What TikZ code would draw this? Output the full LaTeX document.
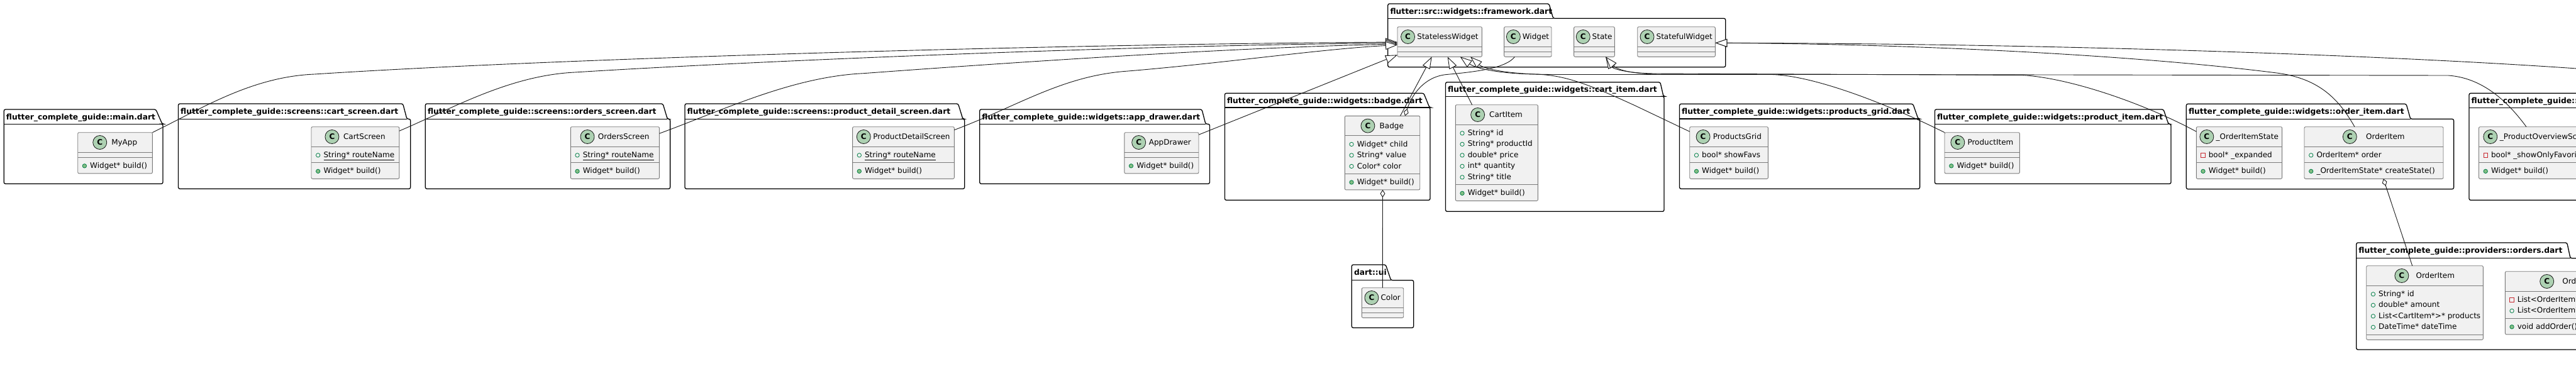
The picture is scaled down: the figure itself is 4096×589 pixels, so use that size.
\documentclass[tikz,border=0pt]{standalone}
\usepackage{fontspec}
\setmainfont{DejaVu Sans}
\usetikzlibrary{arrows.meta}
\definecolor{clsfill}{HTML}{F1F1F1}
\definecolor{clsbord}{HTML}{7A7A7A}
\definecolor{spotfill}{HTML}{ADD1B2}
\definecolor{lnk}{HTML}{181818}
\definecolor{icgreen}{HTML}{038048}
\definecolor{icgreenfill}{HTML}{84BE84}
\definecolor{icred}{HTML}{C82930}
\newcommand\clsfont{\fontsize{12}{14}\selectfont}
\newcommand\pkgfont{\bfseries\fontsize{12.3}{14}\selectfont}
\newcommand\fcg{flutter\_complete\_guide}
\tikzset{
  clsbox/.style={draw=clsbord, fill=clsfill, line width=0.9pt, rounded corners=2pt, inner sep=0pt, outer sep=0pt},
  clsline/.style={draw=clsbord, line width=0.9pt},
  spot/.style={circle, draw=lnk, line width=0.8pt, fill=spotfill, minimum size=22pt, inner sep=0pt, font=\bfseries\fontsize{12}{12}\selectfont},
  clstext/.style={inner sep=0pt, text height=8.8pt, text depth=0pt, font=\clsfont},
  pkgline/.style={draw=black, line width=1.3pt, rounded corners=2.5pt},
  pkgtitle/.style={inner sep=0pt, text height=8.9pt, text depth=0pt, font=\pkgfont},
  icpubf/.style={draw=icgreen, line width=0.8pt},
  icpubm/.style={draw=icgreen, fill=icgreenfill, line width=0.8pt},
  icpriv/.style={draw=icred, line width=0.8pt},
  extarrow/.style={draw=lnk, line width=0.9pt, -{Triangle[length=19pt, width=13pt, fill=white]}},
  aggline/.style={draw=lnk, line width=0.9pt, {Diamond[length=12pt, width=8pt, fill=white]}-}
}
\newcommand\umliconf[2]{\draw[icpubf] (#1,#2) circle[radius=3.2];}
\newcommand\umliconm[2]{\draw[icpubm] (#1,#2) circle[radius=3.2];}
\newcommand\umliconp[2]{\draw[icpriv] ({#1-3.2},{#2-3.2}) rectangle ({#1+3.2},{#2+3.2});}
% header content: space for the spot, then the name; #1 box width, #2 name
\newcommand\umlhead[2]{%
  \setbox0\hbox{#2}%
  \dimen0=#1pt \advance\dimen0 by -\wd0 \advance\dimen0 by -32.3pt
  \ifdim\dimen0<0pt \dimen0=0pt\fi
  \dimen0=0.09\dimen0 \advance\dimen0 by 25.2pt
  \hbox{\hspace*{\dimen0}\box0}}
% #1 id #2 left #3 top #4 width #5 name #6 nA #7 attrs #8 nM #9 methods
\newcommand\umlclass[9]{%
  \pgfmathsetmacro\umlA{#3+31.6}%
  \pgfmathsetmacro\umlM{\umlA+ifthenelse(#6==0,8,17.5*#6+8)}%
  \pgfmathsetmacro\umlB{\umlM+ifthenelse(#8==0,8,17.5*#8+8)}%
  \pgfmathsetmacro\umlH{\umlB-#3}%
  \pgfmathsetmacro\umlhy{#3+15.8}%
  \pgfmathsetmacro\umlhx{#2+#4/2}%
  \node[clsbox, anchor=north west, minimum width=#4, minimum height=\umlH] (#1) at (#2,#3) {};
  \draw[clsline] (#2,\umlA) -- ++(#4,0);
  \draw[clsline] (#2,\umlM) -- ++(#4,0);
  \node[clstext, anchor=center] (#1-h) at (\umlhx,\umlhy) {\umlhead{#4}{#5}};
  \node[spot] at ([xshift=11pt]#1-h.west) {C};
  \ifnum#6>0
    \foreach \ic/\tx [count=\ii] in {#7}{%
      \pgfmathsetmacro\umlry{\umlA+4+17.5*(\ii-0.5)}%
      \csname umlicon\ic\endcsname{#2+10.7}{\umlry+0.8}%
      \node[clstext, anchor=west] at (#2+19.3,\umlry) {\tx};
    }%
  \fi
  \ifnum#8>0
    \foreach \ic/\tx [count=\ii] in {#9}{%
      \pgfmathsetmacro\umlry{\umlM+4+17.5*(\ii-0.5)}%
      \csname umlicon\ic\endcsname{#2+10.7}{\umlry+0.8}%
      \node[clstext, anchor=west] at (#2+19.3,\umlry) {\tx};
    }%
  \fi
}
% #1 id #2 L #3 tabTop #4 tabR #5 slantR #6 bodyTop #7 R #8 bottom #9 title
\newcommand\umlpkg[9]{%
  \draw[pkgline] (#2,#6) -- (#2,#3) -- (#4,#3) -- (#5,#6) -- (#7,#6) -- (#7,#8) -- (#2,#8) -- cycle;
  \draw[pkgline] (#2,#6) -- (#5,#6);
  \node[pkgtitle, anchor=west] (#1) at (#2+3.5,{(#3+#6)/2}) {#9};
}
\begin{document}
\begin{tikzpicture}[x=1pt,y=-1pt]
\useasboundingbox (0,0) rectangle (4096,589);
\clip (0,0) rectangle (4096,589);
\fill[white] (0,0) rectangle (4096,589);
% packages
\umlpkg{pkgfw}{2206.8}{6}{2463}{2469.7}{29.3}{2743.7}{106.7}{flutter::src::widgets::framework.dart}
\umlpkg{pkgmain}{6.25}{174}{247.8}{258}{197.3}{259}{292.3}{\fcg::main.dart}
\umlpkg{pkgcart}{283.5}{165}{640.6}{647}{189.3}{652.7}{300.3}{\fcg::screens::cart\_screen.dart}
\umlpkg{pkgorders}{676.3}{165}{1054}{1061.3}{189.3}{1065.6}{300.3}{\fcg::screens::orders\_screen.dart}
\umlpkg{pkgdetail}{1089}{165}{1523.5}{1531}{189.3}{1533.7}{300.3}{\fcg::screens::product\_detail\_screen.dart}
\umlpkg{pkgdrawer}{1557.7}{174}{1911}{1917}{197.3}{1923.5}{292.3}{\fcg::widgets::app\_drawer.dart}
\umlpkg{pkgbadge}{1947.4}{148.3}{2263.8}{2273}{171}{2274}{318.3}{\fcg::widgets::badge.dart}
\umlpkg{pkgcitem}{2298.5}{130.7}{2639.8}{2645}{153.3}{2646}{336.3}{\fcg::widgets::cart\_item.dart}
\umlpkg{pkggrid}{2670.5}{165.3}{3041.7}{3050}{189}{3052.6}{300.3}{\fcg::widgets::products\_grid.dart}
\umlpkg{pkgpitem}{3076.4}{174}{3440}{3448}{197.3}{3452}{292.3}{\fcg::widgets::product\_item.dart}
\umlpkg{pkgoitem}{3476.3}{165.3}{3826}{3832.8}{189.3}{3901.6}{300.7}{\fcg::widgets::order\_item.dart}
\umlpkg{pkgover}{3926}{148.3}{4400}{4408}{171.7}{4700}{318.3}{\fcg::screens::product\_overview\_screen.dart}
\umlpkg{pkgui}{2149.3}{421}{2203.3}{2211.7}{445.7}{2247.7}{521.3}{dart::ui}
\umlpkg{pkgprov}{3746.7}{386}{4081.7}{4087}{410.7}{4400}{556}{\fcg::providers::orders.dart}
% classes
\umlclass{sw}{2222}{42.7}{134.4}{StatelessWidget}{0}{}{0}{}
\umlclass{widget}{2391.6}{42.7}{75.4}{Widget}{0}{}{0}{}
\umlclass{state}{2502.6}{42.7}{64.7}{State}{0}{}{0}{}
\umlclass{sfw}{2603.7}{42.7}{123.6}{StatefulWidget}{0}{}{0}{}
\umlclass{myapp}{123.7}{210.7}{118.7}{MyApp}{0}{}{1}{m/Widget* build()}
\umlclass{cartscreen}{495}{201.7}{139.8}{CartScreen}{1}{f/\underline{String* routeName}}{1}{m/Widget* build()}
\umlclass{ordersscreen}{907.3}{201.7}{141.1}{OrdersScreen}{1}{f/\underline{String* routeName}}{1}{m/Widget* build()}
\umlclass{pdscreen}{1355.6}{201.7}{161.7}{ProductDetailScreen}{1}{f/\underline{String* routeName}}{1}{m/Widget* build()}
\umlclass{appdrawer}{1787.8}{210.7}{118.2}{AppDrawer}{0}{}{1}{m/Widget* build()}
\umlclass{badge}{2138.3}{184.3}{119.4}{Badge}{3}{f/Widget* child,f/String* value,f/Color* color}{1}{m/Widget* build()}
\umlclass{cartitem}{2314.3}{166.7}{131.1}{CartItem}{5}{f/String* id,f/String* productId,f/double* price,f/int* quantity,f/String* title}{1}{m/Widget* build()}
\umlclass{pgrid}{2686.7}{201.7}{124.7}{ProductsGrid}{1}{f/bool* showFavs}{1}{m/Widget* build()}
\umlclass{pitem}{3092}{210.7}{119.4}{ProductItem}{0}{}{1}{m/Widget* build()}
\umlclass{ois}{3492.3}{201.7}{136.3}{\_OrderItemState}{1}{p/bool* \_expanded}{1}{m/Widget* build()}
\umlclass{woi}{3664}{201.7}{221}{OrderItem}{1}{f/OrderItem* order}{1}{m/\_OrderItemState* createState()}
\umlclass{poss}{3941.5}{201.7}{222}{\_ProductOverviewScreenState}{1}{p/bool* \_showOnlyFavorites}{1}{m/Widget* build()}
\umlclass{color}{2165.3}{457.7}{66.4}{Color}{0}{}{0}{}
\umlclass{poi}{3762.7}{422.7}{185.6}{OrderItem}{4}{f/String* id,f/double* amount,f/List<CartItem*>* products,f/DateTime* dateTime}{0}{}
\umlclass{orders}{3983.3}{431.7}{187}{Orders}{2}{p/List<OrderItem*>* \_orders,f/List<OrderItem*>* orders}{1}{m/void addOrder()}
% inheritance connectors
\draw[extarrow] (myapp.north east) .. controls (320,173) and (400,122) .. (500,118) .. controls (900,92) and (1700,70) .. ([yshift=-0.5pt]sw.west);
\draw[extarrow] ([yshift=-6.6pt]cartscreen.north east) .. controls (720,172) and (810,120) .. (914,115) .. controls (1200,97) and (1800,72) .. ([yshift=-2pt]sw.west);
\draw[extarrow] ([yshift=-10.6pt]ordersscreen.north east) .. controls (1150,175) and (1260,122) .. (1373,116.7) .. controls (1600,100) and (1950,76) .. ([yshift=-3.5pt]sw.west);
\draw[extarrow] ([yshift=-5pt]pdscreen.north east) .. controls (1620,168) and (1690,120) .. (1794,113) .. controls (1950,100) and (2100,78) .. ([yshift=-5pt]sw.west);
\draw[extarrow] ([yshift=-3.6pt]appdrawer.north east) -- ([yshift=3pt]sw.south west);
\draw[extarrow] ([xshift=88.2pt]badge.north west) -- ([xshift=54.7pt]sw.south west);
\draw[extarrow] ([xshift=26.4pt]cartitem.north west) -- ([xshift=79.7pt]sw.south west);
\draw[extarrow] ([yshift=-7.6pt]pgrid.north west) -- (2600,168) .. controls (2530,136) and (2490,119) .. (2440,118) .. controls (2380,117) and (2345,108) .. ([xshift=99.7pt]sw.south west);
\draw[extarrow] (pitem.north west) .. controls (2990,160) and (2880,120) .. (2817,118.5) -- (2470,118.5) .. controls (2400,118.5) and (2360,110) .. ([xshift=116pt]sw.south west);
\draw[extarrow] ([yshift=-7.6pt]ois.north west) .. controls (3420,170) and (3300,125) .. (3216,119.5) -- (2630,117) .. controls (2590,116.5) and (2565,110) .. ([xshift=50.4pt]state.south west);
\draw[extarrow] ([xshift=75.5pt]poss.north west) .. controls (3990,165) and (3950,124) .. (3893,120) -- (2640,118) .. controls (2600,118) and (2572,112) .. ([xshift=50.4pt]state.south west);
\draw[extarrow] ([xshift=80pt]woi.north west) .. controls (3720,160) and (3690,125) .. (3620,116) .. controls (3400,88) and (3050,70) .. ([yshift=-1.8pt]sfw.east);
\coordinate (povscreen) at (4300,128);
\draw[extarrow] (povscreen) .. controls (4150,105) and (3500,70) .. ([yshift=-1.8pt]sfw.east);
% aggregation connectors
\draw[aggline] ([xshift=95.7pt]badge.north west) .. controls (2245,150) and (2265,122) .. (2300,118.5) .. controls (2350,114) and (2395,108) .. ([xshift=16.9pt]widget.south west);
\draw[aggline] ([xshift=60.2pt]badge.south west) -- ([xshift=33pt]color.north west);
\draw[aggline] ([xshift=125.7pt]woi.south west) -- ([xshift=73pt]poi.north west);
\end{tikzpicture}
\end{document}
